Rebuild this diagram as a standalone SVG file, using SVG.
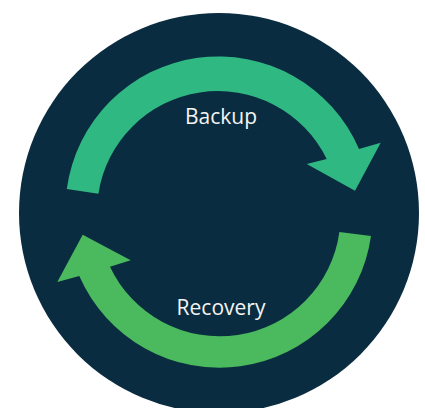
<svg xmlns="http://www.w3.org/2000/svg" width="425" height="408" viewBox="0 0 425 408">
  <style>
    .lbl { font-family: "Open Sans", "Liberation Sans", sans-serif; font-size: 21px; fill: #f4f4f4; text-anchor: middle; }
  </style>
  <rect width="425" height="408" fill="#ffffff"/>
  <g id="background">
    <circle cx="219" cy="213" r="200" fill="#0a2c40"/>
  </g>
  <g id="connectors">
    <path id="backup-arrow" fill="#30b883" d="M66.8,188.9 A153,153 0 0 1 359,149 L380.7,142.7 L355,190.7 L306.7,164 L326.7,159 A121,121 0 0 0 98.4,193.7 Z"/>
    <path id="recovery-arrow" fill="#4bb95d" d="M371,236 A153,153 0 0 1 79.3,276 L57.3,282 L82.7,234.7 L130.7,260.3 L110,266.7 A121,121 0 0 0 339.4,232 Z"/>
  </g>
  <g id="backup">
    <text class="lbl" x="221" y="124">Backup</text>
  </g>
  <g id="recovery">
    <text class="lbl" x="221" y="315">Recovery</text>
  </g>
</svg>
